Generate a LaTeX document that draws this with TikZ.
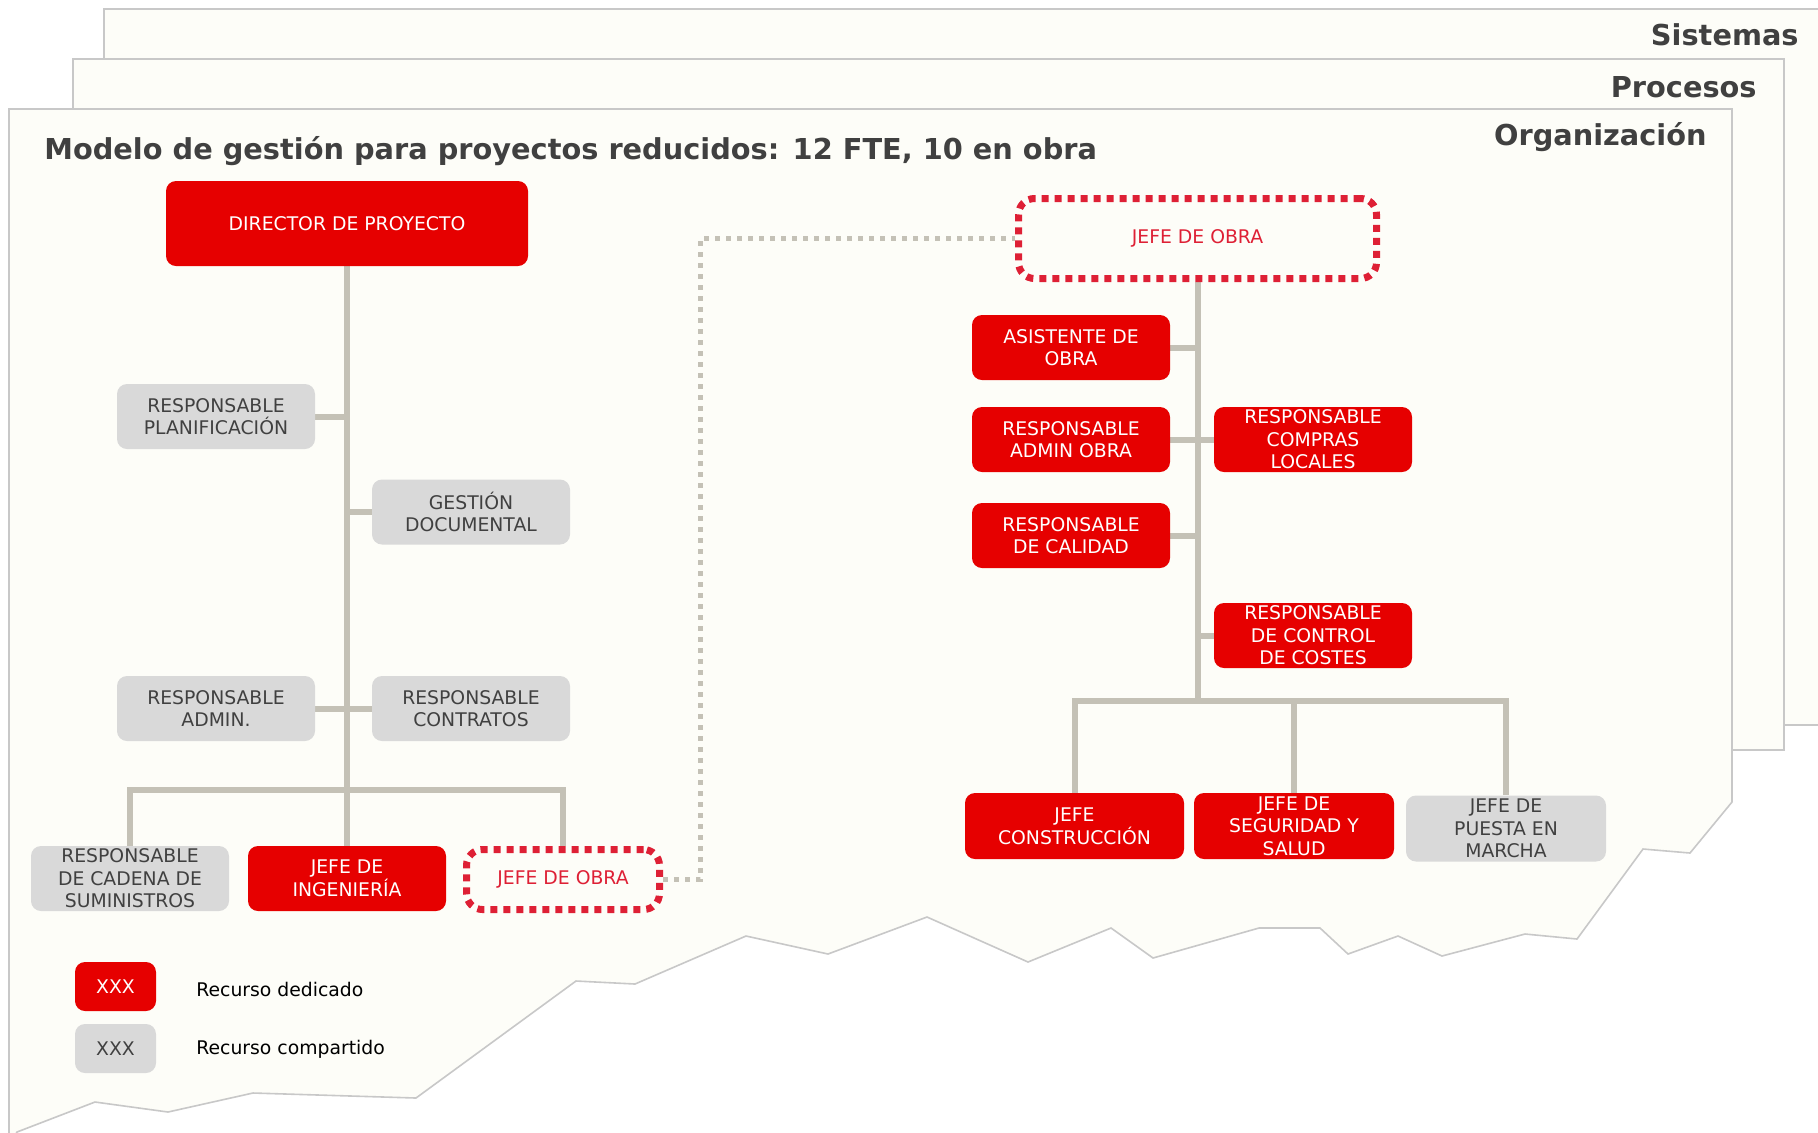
\documentclass[tikz,border=0pt]{standalone}
\usepackage{fontspec}
\setmainfont{DejaVu Sans}
\definecolor{cRed}{HTML}{E60000}
\definecolor{cGray}{HTML}{D9D9D9}
\definecolor{cText}{HTML}{404040}
\definecolor{cDot}{HTML}{DE2035}
\definecolor{cLink}{HTML}{C4C1B6}
\definecolor{cSheet}{HTML}{FDFDF8}
\definecolor{cSheetLine}{HTML}{C8C8C8}
\pgfdeclarelayer{sheets}
\pgfdeclarelayer{links}
\pgfsetlayers{sheets,links,main}
\begin{document}
\begin{tikzpicture}[x=0.5pt,y=-0.5pt,
  box/.style={rounded corners=5pt, minimum width=99pt, minimum height=32.5pt, align=center,
    font=\fontsize{9.4}{11.3}\selectfont, inner xsep=1pt, inner ysep=0pt},
  redbox/.style={box, fill=cRed, text=white},
  graybox/.style={box, fill=cGray, text=cText},
  dotbox/.style={box, draw=cDot, line width=3.5pt, dash pattern=on 3.5pt off 3pt,
    rounded corners=8pt, text=cDot, fill=cSheet},
  link/.style={draw=cLink, line width=3pt},
  glink/.style={draw=cLink, line width=2.5pt, dash pattern=on 2.5pt off 3pt},
  sheet/.style={fill=cSheet, draw=cSheetLine, line width=0.8pt},
  sheetlabel/.style={font=\fontsize{14.4}{16}\selectfont\bfseries, text=cText, inner sep=0pt},
  legendtext/.style={font=\fontsize{9.4}{11.3}\selectfont, text=black, inner sep=0pt}
]
\useasboundingbox (0,0) rectangle (1818,1132);
\begin{pgfonlayer}{sheets}
  \clip (0,0) rectangle (1818,1132);
  \fill[white] (0,0) rectangle (1818,1132);
  \draw[sheet] (104,9) rectangle (1830,725);
  \draw[sheet] (73,59) rectangle (1784,750);
  \draw[sheet] (9,1145) -- (9,109) -- (1732,109) -- (1732,802) -- (1690,853) -- (1643,849)
    -- (1577,939) -- (1525,934) -- (1442,956) -- (1398,936) -- (1348,954) -- (1320,928)
    -- (1259,928) -- (1153,958) -- (1111,928) -- (1028,962) -- (927,917) -- (828,954)
    -- (746,936) -- (635,984) -- (576,981) -- (416,1098) -- (253,1093) -- (168,1112)
    -- (95,1102) -- (17,1132) -- (10,1145) -- cycle;
\end{pgfonlayer}

% sheet labels and title
\node[sheetlabel, anchor=base east] (lsis) at (1799,45) {Sistemas};
\node[sheetlabel, anchor=base east] (lpro) at (1757,97) {Procesos};
\node[sheetlabel, anchor=base east] (lorg) at (1707,145) {Organización};
\node[sheetlabel, anchor=base west] (title) at (44,159) {Modelo de gestión para proyectos reducidos: 12 FTE, 10 en obra};

% left chart
\node[redbox, minimum width=181pt, minimum height=42.5pt] (dir) at (347,223.5) {DIRECTOR DE PROYECTO};
\node[graybox] (plan) at (216,416.5) {RESPONSABLE\\PLANIFICACIÓN};
\node[graybox] (gdoc) at (471,512) {GESTIÓN\\DOCUMENTAL};
\node[graybox] (radm) at (216,708.5) {RESPONSABLE\\ADMIN.};
\node[graybox] (rcon) at (471,708.5) {RESPONSABLE\\CONTRATOS};
\node[graybox] (rsum) at (130,878.5) {RESPONSABLE\\DE CADENA DE\\SUMINISTROS};
\node[redbox] (jing) at (347,878.5) {JEFE DE\\INGENIERÍA};
\node[dotbox, minimum width=96.5pt, minimum height=30pt] (jobra1) at (563,879.5) {JEFE DE OBRA};
\coordinate (t1) at (347,790);

% right chart
\node[dotbox, minimum width=179pt, minimum height=40pt] (jobra2) at (1197.5,238.5) {JEFE DE OBRA};
\node[redbox] (asis) at (1071,347.5) {ASISTENTE DE\\OBRA};
\node[redbox] (radmo) at (1071,439.5) {RESPONSABLE\\ADMIN OBRA};
\node[redbox] (comp) at (1313,439.5) {RESPONSABLE\\COMPRAS\\LOCALES};
\node[redbox] (cal) at (1071,535.5) {RESPONSABLE\\DE CALIDAD};
\node[redbox] (cost) at (1313,635.5) {RESPONSABLE\\DE CONTROL\\DE COSTES};
\node[redbox, minimum width=109.5pt, minimum height=33pt] (cons) at (1074.5,826) {JEFE\\CONSTRUCCIÓN};
\node[redbox, minimum width=100pt, minimum height=33pt] (seg) at (1294,826) {JEFE DE\\SEGURIDAD Y\\SALUD};
\node[graybox, minimum width=100pt, minimum height=33pt] (pem) at (1506,828.5) {JEFE DE\\PUESTA EN\\MARCHA};
\coordinate (t2) at (1197.5,701);

% legend
\node[redbox, minimum width=40.5pt, minimum height=24.5pt] (lr) at (115.5,986.5) {XXX};
\node[graybox, minimum width=40.5pt, minimum height=24.5pt] (lg) at (115.5,1048.5) {XXX};
\node[legendtext, anchor=base west] (lrt) at (196,996) {Recurso dedicado};
\node[legendtext, anchor=base west] (lgt) at (196,1054) {Recurso compartido};

\begin{pgfonlayer}{links}
  % left connectors
  \draw[link] (dir.south) -- (t1);
  \draw[link] (plan.east) -- (plan.east -| dir.south);
  \draw[link] (gdoc.west) -- (gdoc.west -| dir.south);
  \draw[link] (radm.east) -- (rcon.west);
  \draw[link] (rsum.north) -- (rsum.north |- t1) -- (jobra1.north |- t1) -- (jobra1.north);
  \draw[link] (t1) -- (jing.north);
  % dotted link between the two JEFE DE OBRA
  \draw[glink] (jobra1.east) -- ++(37,0) |- (jobra2.west);
  % right connectors
  \draw[link] (jobra2.south) -- (t2);
  \draw[link] (asis.east) -- (asis.east -| t2);
  \draw[link] (radmo.east) -- (comp.west);
  \draw[link] (cal.east) -- (cal.east -| t2);
  \draw[link] (cost.west) -- (cost.west -| t2);
  \draw[link] (cons.north) -- (cons.north |- t2) -- (pem.north |- t2) -- (pem.north);
  \draw[link] (seg.north) -- (seg.north |- t2);
\end{pgfonlayer}
\end{tikzpicture}
\end{document}
